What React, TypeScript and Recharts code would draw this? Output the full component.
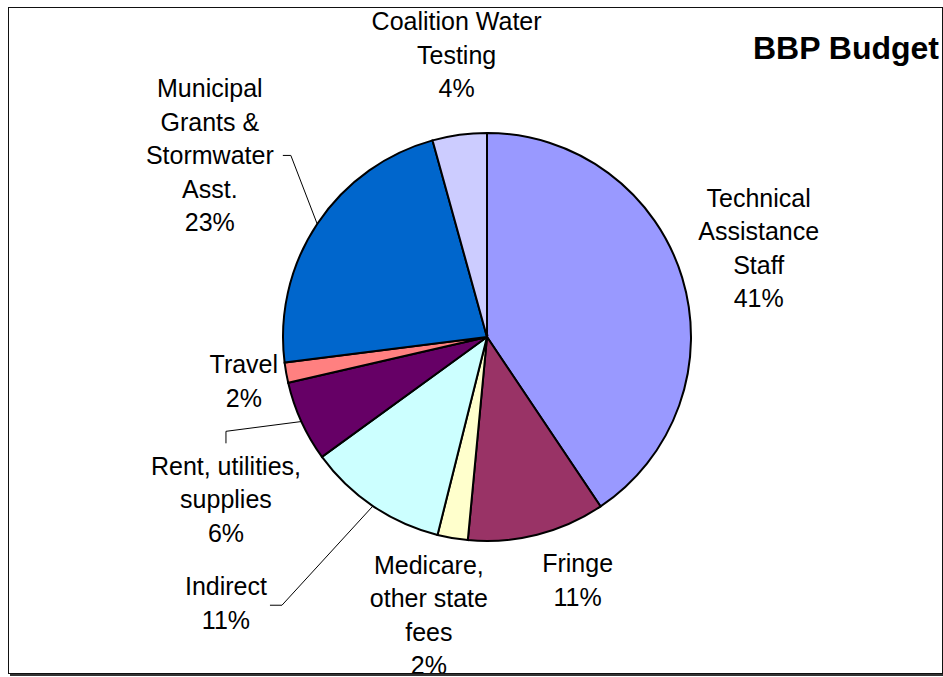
import React from "react";
import { PieChart, Pie, Cell } from "recharts";

const categories = [
  "Technical Assistance Staff",
  "Fringe",
  "Medicare, other state fees",
  "Indirect",
  "Rent, utilities, supplies",
  "Travel",
  "Municipal Grants & Stormwater Asst.",
  "Coalition Water Testing",
];

const labelLines = [
  ["Technical", "Assistance", "Staff"],
  ["Fringe"],
  ["Medicare,", "other state", "fees"],
  ["Indirect"],
  ["Rent, utilities,", "supplies"],
  ["Travel"],
  ["Municipal", "Grants &", "Stormwater", "Asst."],
  ["Coalition Water", "Testing"],
];

const shares = [40.6, 10.9, 2.4, 11.1, 6.4, 1.6, 22.7, 4.3];

const colors = [
  "#9999FF",
  "#993366",
  "#FFFFCC",
  "#CCFFFF",
  "#660066",
  "#FF8080",
  "#0066CC",
  "#CCCCFF",
];

// where each label sits: distance from centre along the slice middle, plus a nudge
const labelRadius = [285, 255, 285, 320, 300, 247, 333, 285];
const labelNudge = [
  [-1, -6],
  [28, -4],
  [-10, -3],
  [-82, 1],
  [12, 38],
  [0, 1],
  [0, 3],
  [8, 0],
];
// leader lines: start + elbow relative to label centre (null = none)
const leaders: (number[][] | null)[] = [
  null,
  null,
  null,
  [[44, 2], [56, 2]],
  [[0, -56], [0, -68]],
  null,
  [[73, 0], [81, 0]],
  null,
];

const data = categories.map((name, i) => ({ name, value: shares[i] }));

const FONT = "'Liberation Sans', Arial, sans-serif";
const LINE_H = 33.5;
const RAD = Math.PI / 180;

function renderLabel(props: any) {
  const { cx, cy, midAngle, outerRadius, index, percent } = props;
  const r = labelRadius[index];
  const cos = Math.cos(-midAngle * RAD);
  const sin = Math.sin(-midAngle * RAD);
  const lx = cx + r * cos + labelNudge[index][0];
  const ly = cy + r * sin + labelNudge[index][1];
  const lines = [...labelLines[index], `${Math.round(percent * 100)}%`];
  const top = ly - ((lines.length - 1) * LINE_H) / 2;
  const lead = leaders[index];
  let path = null;
  if (lead) {
    const ex = cx + outerRadius * cos;
    const ey = cy + outerRadius * sin;
    const pts = [
      [lx + lead[0][0], ly + lead[0][1]],
      [lx + lead[1][0], ly + lead[1][1]],
      [ex, ey],
    ];
    path = (
      <polyline
        points={pts.map((p) => p.join(",")).join(" ")}
        fill="none"
        stroke="#000"
        strokeWidth={1}
      />
    );
  }
  return (
    <g key={`lbl-${index}`}>
      {path}
      {lines.map((t, j) => (
        <text
          key={j}
          x={lx}
          y={top + j * LINE_H}
          textAnchor="middle"
          dominantBaseline="central"
          fontFamily={FONT}
          fontSize={25}
          fill="#000"
        >
          {t}
        </text>
      ))}
    </g>
  );
}

export default function App() {
  return (
    <div
      style={{
        position: "absolute",
        left: 8,
        top: 7,
        width: 933,
        height: 665,
        border: "1px solid #111",
        boxShadow: "2px 2px 0 #333",
        background: "#fff",
      }}
    >
      <div
        style={{
          position: "absolute",
          right: 3,
          top: 24,
          fontFamily: FONT,
          fontWeight: "bold",
          fontSize: 32,
          lineHeight: 1,
        }}
      >
        BBP Budget
      </div>
      <PieChart
        width={933}
        height={665}
        margin={{ top: 0, right: 0, bottom: 0, left: 0 }}
        style={{ overflow: "visible" }}
      >
        <Pie
          data={data}
          dataKey="value"
          nameKey="name"
          cx={478}
          cy={329}
          outerRadius={204}
          startAngle={90}
          endAngle={-270}
          stroke="#000"
          strokeWidth={2}
          label={renderLabel}
          labelLine={false}
          isAnimationActive={false}
        >
          {data.map((d, i) => (
            <Cell key={d.name} fill={colors[i]} />
          ))}
        </Pie>
      </PieChart>
    </div>
  );
}
